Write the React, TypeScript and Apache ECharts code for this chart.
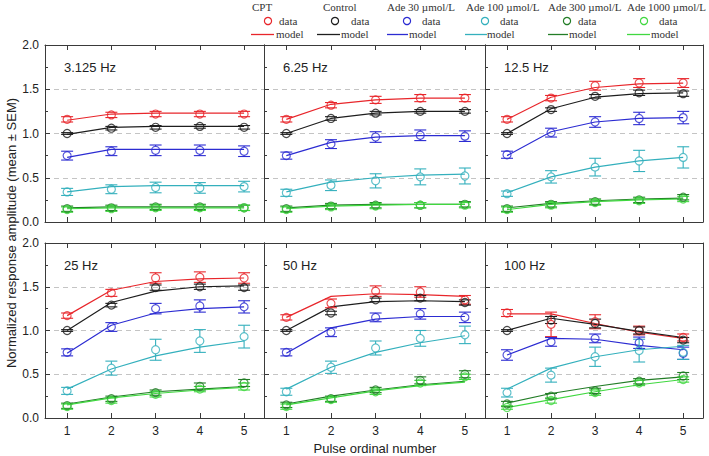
import React, { useEffect, useRef } from 'react';
import * as echarts from 'echarts';

const pulses = [1, 2, 3, 4, 5];
const panelTitles = ['3.125 Hz', '6.25 Hz', '12.5 Hz', '25 Hz', '50 Hz', '100 Hz'];
const groupNames = ['CPT', 'Control', 'Ade 30 µmol/L', 'Ade 100 µmol/L', 'Ade 300 µmol/L', 'Ade 1000 µmol/L'];
const groupColors = ['#e8262b', '#1e1e1e', '#2c2cd2', '#34b0bd', '#237d27', '#40d840'];

// rows: panels (3.125, 6.25, 12.5, 25, 50, 100 Hz); columns: pulse 1..5
const cptMean = [
  [1.16, 1.21, 1.22, 1.22, 1.22],
  [1.16, 1.32, 1.38, 1.40, 1.40],
  [1.16, 1.40, 1.54, 1.57, 1.57],
  [1.17, 1.43, 1.60, 1.61, 1.60],
  [1.15, 1.31, 1.45, 1.44, 1.35],
  [1.20, 1.07, 1.10, 1.00, 0.92],
];
const cptSem = [
  [0.03, 0.03, 0.03, 0.03, 0.03],
  [0.03, 0.03, 0.04, 0.04, 0.04],
  [0.03, 0.03, 0.05, 0.05, 0.05],
  [0.03, 0.04, 0.06, 0.06, 0.06],
  [0.03, 0.05, 0.06, 0.06, 0.05],
  [0.04, 0.14, 0.08, 0.05, 0.04],
];
const cptModel = [
  [1.15, 1.22, 1.23, 1.23, 1.23],
  [1.16, 1.33, 1.38, 1.40, 1.40],
  [1.16, 1.41, 1.52, 1.56, 1.57],
  [1.17, 1.46, 1.56, 1.59, 1.60],
  [1.15, 1.39, 1.42, 1.41, 1.39],
  [1.19, 1.19, 1.08, 0.98, 0.91],
];

const controlMean = [
  [1.0, 1.06, 1.07, 1.08, 1.07],
  [1.0, 1.17, 1.23, 1.25, 1.25],
  [1.0, 1.27, 1.42, 1.46, 1.45],
  [1.0, 1.29, 1.49, 1.50, 1.49],
  [1.0, 1.20, 1.35, 1.37, 1.32],
  [1.0, 1.12, 1.08, 1.00, 0.89],
];
const controlSem = [
  [0.01, 0.02, 0.02, 0.02, 0.02],
  [0.01, 0.02, 0.02, 0.02, 0.02],
  [0.01, 0.02, 0.02, 0.03, 0.03],
  [0.01, 0.02, 0.03, 0.03, 0.03],
  [0.01, 0.02, 0.02, 0.03, 0.03],
  [0.01, 0.04, 0.05, 0.04, 0.03],
];
const controlModel = [
  [0.99, 1.07, 1.08, 1.08, 1.08],
  [1.0, 1.17, 1.23, 1.25, 1.25],
  [1.0, 1.28, 1.41, 1.45, 1.46],
  [1.0, 1.32, 1.45, 1.50, 1.51],
  [1.0, 1.27, 1.33, 1.34, 1.33],
  [1.0, 1.14, 1.07, 0.99, 0.92],
];

const ade30Mean = [
  [0.75, 0.80, 0.81, 0.81, 0.80],
  [0.75, 0.88, 0.96, 0.98, 0.97],
  [0.76, 1.01, 1.13, 1.17, 1.18],
  [0.75, 1.04, 1.25, 1.28, 1.27],
  [0.75, 0.98, 1.15, 1.19, 1.15],
  [0.72, 0.87, 0.91, 0.86, 0.74],
];
const ade30Sem = [
  [0.05, 0.05, 0.06, 0.06, 0.06],
  [0.04, 0.05, 0.06, 0.06, 0.06],
  [0.04, 0.05, 0.06, 0.07, 0.07],
  [0.04, 0.05, 0.06, 0.07, 0.07],
  [0.04, 0.05, 0.05, 0.06, 0.06],
  [0.06, 0.05, 0.05, 0.065, 0.07],
];
const ade30Model = [
  [0.73, 0.82, 0.82, 0.82, 0.82],
  [0.75, 0.90, 0.96, 0.975, 0.975],
  [0.75, 1.02, 1.13, 1.17, 1.18],
  [0.74, 1.06, 1.20, 1.25, 1.27],
  [0.74, 1.03, 1.13, 1.16, 1.16],
  [0.72, 0.91, 0.90, 0.83, 0.78],
];

const ade100Mean = [
  [0.34, 0.37, 0.39, 0.385, 0.40],
  [0.33, 0.415, 0.465, 0.51, 0.52],
  [0.32, 0.51, 0.62, 0.69, 0.73],
  [0.31, 0.57, 0.78, 0.88, 0.93],
  [0.30, 0.58, 0.80, 0.91, 0.95],
  [0.29, 0.49, 0.70, 0.77, 0.75],
];
const ade100Sem = [
  [0.04, 0.05, 0.06, 0.06, 0.06],
  [0.04, 0.06, 0.08, 0.09, 0.09],
  [0.03, 0.07, 0.10, 0.12, 0.12],
  [0.04, 0.08, 0.12, 0.13, 0.13],
  [0.04, 0.07, 0.08, 0.09, 0.10],
  [0.05, 0.08, 0.11, 0.13, 0.08],
];
const ade100Model = [
  [0.34, 0.40, 0.41, 0.41, 0.41],
  [0.34, 0.45, 0.50, 0.53, 0.54],
  [0.33, 0.51, 0.62, 0.69, 0.73],
  [0.33, 0.56, 0.71, 0.81, 0.88],
  [0.33, 0.58, 0.75, 0.86, 0.94],
  [0.33, 0.57, 0.70, 0.78, 0.82],
];

const ade300Mean = [
  [0.15, 0.16, 0.17, 0.17, 0.16],
  [0.15, 0.18, 0.19, 0.19, 0.20],
  [0.15, 0.20, 0.23, 0.25, 0.28],
  [0.14, 0.22, 0.29, 0.36, 0.40],
  [0.15, 0.22, 0.32, 0.43, 0.50],
  [0.16, 0.25, 0.31, 0.42, 0.48],
];
const ade300Sem = [
  [0.03, 0.03, 0.03, 0.03, 0.03],
  [0.03, 0.03, 0.03, 0.03, 0.03],
  [0.03, 0.03, 0.03, 0.03, 0.03],
  [0.03, 0.03, 0.03, 0.04, 0.04],
  [0.03, 0.03, 0.03, 0.04, 0.04],
  [0.03, 0.03, 0.03, 0.03, 0.04],
];
const ade300Model = [
  [0.16, 0.17, 0.17, 0.17, 0.17],
  [0.16, 0.19, 0.20, 0.20, 0.20],
  [0.16, 0.21, 0.24, 0.26, 0.27],
  [0.16, 0.24, 0.30, 0.33, 0.36],
  [0.16, 0.25, 0.32, 0.38, 0.42],
  [0.17, 0.28, 0.36, 0.43, 0.47],
];

const ade1000Mean = [
  [0.14, 0.15, 0.16, 0.16, 0.16],
  [0.14, 0.17, 0.18, 0.19, 0.19],
  [0.14, 0.19, 0.22, 0.24, 0.26],
  [0.13, 0.20, 0.27, 0.33, 0.36],
  [0.13, 0.21, 0.30, 0.40, 0.47],
  [0.12, 0.20, 0.29, 0.40, 0.44],
];
const ade1000Sem = [
  [0.03, 0.03, 0.03, 0.03, 0.03],
  [0.03, 0.03, 0.03, 0.03, 0.03],
  [0.03, 0.03, 0.03, 0.03, 0.03],
  [0.03, 0.03, 0.03, 0.03, 0.04],
  [0.03, 0.03, 0.03, 0.03, 0.03],
  [0.02, 0.03, 0.03, 0.03, 0.03],
];
const ade1000Model = [
  [0.15, 0.16, 0.16, 0.16, 0.16],
  [0.15, 0.18, 0.19, 0.20, 0.20],
  [0.14, 0.20, 0.23, 0.25, 0.26],
  [0.15, 0.23, 0.28, 0.32, 0.35],
  [0.15, 0.23, 0.31, 0.37, 0.41],
  [0.12, 0.21, 0.30, 0.38, 0.44],
];

const means = [cptMean, controlMean, ade30Mean, ade100Mean, ade300Mean, ade1000Mean];
const sems = [cptSem, controlSem, ade30Sem, ade100Sem, ade300Sem, ade1000Sem];
const models = [cptModel, controlModel, ade30Model, ade100Model, ade300Model, ade1000Model];

const gridBoxes = [
  { left: 45, top: 45, width: 219, height: 177 },
  { left: 264, top: 45, width: 221, height: 177 },
  { left: 485, top: 45, width: 218, height: 177 },
  { left: 45, top: 243, width: 219, height: 175 },
  { left: 264, top: 243, width: 221, height: 175 },
  { left: 485, top: 243, width: 218, height: 175 },
];

const legendLayout = [
  { tx: 252, lx1: 251, lx2: 274, cx: 268, dx: 279, mx: 276 },
  { tx: 323, lx1: 317, lx2: 340, cx: 335, dx: 351, mx: 341 },
  { tx: 387, lx1: 387, lx2: 408, cx: 407, dx: 422, mx: 409 },
  { tx: 466, lx1: 465, lx2: 487, cx: 485, dx: 500, mx: 487 },
  { tx: 548, lx1: 548, lx2: 568, cx: 567, dx: 578, mx: 569 },
  { tx: 627, lx1: 627, lx2: 650, cx: 644, dx: 659, mx: 651 },
];

const AXIS_COLOR = '#3a3a3a';
const SANS = '"Liberation Sans", Arial, sans-serif';
const SERIF = '"Liberation Serif", "Times New Roman", serif';

function buildOption() {
  const grid: any[] = [];
  const xAxis: any[] = [];
  const yAxis: any[] = [];
  const series: any[] = [];
  const graphic: any[] = [];

  gridBoxes.forEach((b, p) => {
    const isLeft = p % 3 === 0;
    const isBottom = p >= 3;
    grid.push({ left: b.left, top: b.top, width: b.width, height: b.height, containLabel: false });
    const xCommon = {
      type: 'value',
      gridIndex: p,
      min: 0.5,
      max: 5.45,
      minInterval: 1,
      maxInterval: 1,
      splitLine: { show: false },
      axisLine: { show: true, onZero: false, lineStyle: { color: AXIS_COLOR, width: 1 } },
      axisTick: { show: true, inside: true, length: 5, lineStyle: { color: AXIS_COLOR } },
    };
    xAxis.push({
      ...xCommon,
      position: 'bottom',
      axisLabel: {
        show: isBottom,
        showMinLabel: false,
        showMaxLabel: false,
        margin: 7,
        fontSize: 12,
        fontFamily: SANS,
        color: '#222',
        formatter: (v: number) => (Number.isInteger(v) ? String(v) : ''),
      },
    });
    xAxis.push({
      ...xCommon,
      position: 'top',
      axisLabel: { show: false },
    });
    const yCommon = {
      type: 'value',
      gridIndex: p,
      min: 0,
      max: 2,
      interval: 0.5,
      axisLine: { show: true, onZero: false, lineStyle: { color: AXIS_COLOR, width: 1 } },
    };
    yAxis.push({
      ...yCommon,
      position: 'left',
      axisTick: { show: true, inside: true, length: 5, lineStyle: { color: AXIS_COLOR } },
      minorTick: { show: true, splitNumber: 2, length: 3, lineStyle: { color: AXIS_COLOR } },
      splitLine: { show: true, lineStyle: { color: '#c4c4c4', type: [5, 4], width: 1 } },
      axisLabel: {
        show: isLeft,
        margin: 6,
        fontSize: 12,
        fontFamily: SANS,
        color: '#222',
        formatter: (v: number) => v.toFixed(1),
      },
    });
    yAxis.push({
      ...yCommon,
      position: 'right',
      axisTick: { show: false },
      splitLine: { show: false },
      axisLabel: { show: false },
    });

    graphic.push({
      type: 'text',
      x: b.left + 19,
      y: b.top + 22,
      style: { text: panelTitles[p], fontSize: 13, fontFamily: SANS, fontWeight: 'normal', fill: '#222', verticalAlign: 'middle' },
    });

    groupNames.forEach((name, g) => {
      const color = groupColors[g];
      const mean = means[g][p];
      const sem = sems[g][p];
      const model = models[g][p];
      series.push({
        type: 'line',
        name: name + ' model',
        xAxisIndex: 2 * p,
        yAxisIndex: 2 * p,
        data: pulses.map((x, i) => [x, model[i]]),
        showSymbol: false,
        symbol: 'none',
        lineStyle: { color, width: 1.2 },
        z: 2,
        silent: true,
      });
      series.push({
        type: 'custom',
        name: name + ' sem',
        xAxisIndex: 2 * p,
        yAxisIndex: 2 * p,
        data: pulses.map((x, i) => [x, mean[i] - sem[i], mean[i] + sem[i], mean[i]]),
        encode: { x: 0, y: [1, 2] },
        z: 3,
        silent: true,
        renderItem: (params: any, api: any) => {
          const x = api.value(0);
          const lo = api.coord([x, api.value(1)]);
          const hi = api.coord([x, api.value(2)]);
          const c = api.coord([x, api.value(3)]);
          const half = 6;
          const r = 4;
          const style = { stroke: color, lineWidth: 1.1, fill: 'none' };
          const children: any[] = [
            { type: 'line', shape: { x1: lo[0] - half, y1: lo[1], x2: lo[0] + half, y2: lo[1] }, style },
            { type: 'line', shape: { x1: hi[0] - half, y1: hi[1], x2: hi[0] + half, y2: hi[1] }, style },
          ];
          if (hi[1] < c[1] - r) {
            children.push({ type: 'line', shape: { x1: hi[0], y1: hi[1], x2: hi[0], y2: c[1] - r }, style });
          }
          if (lo[1] > c[1] + r) {
            children.push({ type: 'line', shape: { x1: lo[0], y1: c[1] + r, x2: lo[0], y2: lo[1] }, style });
          }
          return { type: 'group', children };
        },
      });
      series.push({
        type: 'scatter',
        name: name + ' data',
        xAxisIndex: 2 * p,
        yAxisIndex: 2 * p,
        data: pulses.map((x, i) => [x, mean[i]]),
        symbol: 'circle',
        symbolSize: 8,
        itemStyle: { color: 'rgba(255,255,255,0)', borderColor: color, borderWidth: 1.2 },
        z: 4,
        silent: true,
      });
    });
  });

  // legend
  groupNames.forEach((name, g) => {
    const L = legendLayout[g];
    const color = groupColors[g];
    graphic.push({
      type: 'text',
      x: L.tx,
      y: 7,
      style: { text: name, fontSize: 11, fontFamily: SERIF, fontWeight: 'normal', fill: '#333', verticalAlign: 'middle' },
    });
    graphic.push({
      type: 'circle',
      shape: { cx: L.cx, cy: 21, r: 3.6 },
      style: { stroke: color, lineWidth: 1.2, fill: 'none' },
    });
    graphic.push({
      type: 'text',
      x: L.dx,
      y: 21,
      style: { text: 'data', fontSize: 11, fontFamily: SERIF, fontWeight: 'normal', fill: '#333', verticalAlign: 'middle' },
    });
    graphic.push({
      type: 'line',
      shape: { x1: L.lx1, y1: 34.5, x2: L.lx2, y2: 34.5 },
      style: { stroke: color, lineWidth: 1.3 },
    });
    graphic.push({
      type: 'text',
      x: L.mx,
      y: 34,
      style: { text: 'model', fontSize: 11, fontFamily: SERIF, fontWeight: 'normal', fill: '#333', verticalAlign: 'middle' },
    });
  });

  // axis names
  graphic.push({
    type: 'text',
    x: 11,
    y: 233,
    rotation: Math.PI / 2,
    style: {
      text: 'Normalized response amplitude (mean ± SEM)',
      fontSize: 13,
      fontFamily: SANS,
      fontWeight: 'normal',
      fill: '#222',
      align: 'center',
      verticalAlign: 'middle',
    },
  });
  graphic.push({
    type: 'text',
    x: 375,
    y: 448,
    style: {
      text: 'Pulse ordinal number',
      fontSize: 13,
      fontFamily: SANS,
      fontWeight: 'normal',
      fill: '#222',
      align: 'center',
      verticalAlign: 'middle',
    },
  });

  return {
    animation: false,
    backgroundColor: '#ffffff',
    grid,
    xAxis,
    yAxis,
    series,
    graphic,
  };
}

export default function App() {
  const ref = useRef<HTMLDivElement>(null);
  useEffect(() => {
    if (!ref.current) return;
    const chart = echarts.init(ref.current, undefined, { renderer: 'svg' });
    chart.setOption(buildOption() as any);
    return () => {
      chart.dispose();
    };
  }, []);
  return <div ref={ref} style={{ width: 709, height: 456, position: 'absolute', left: 0, top: 0 }} />;
}
